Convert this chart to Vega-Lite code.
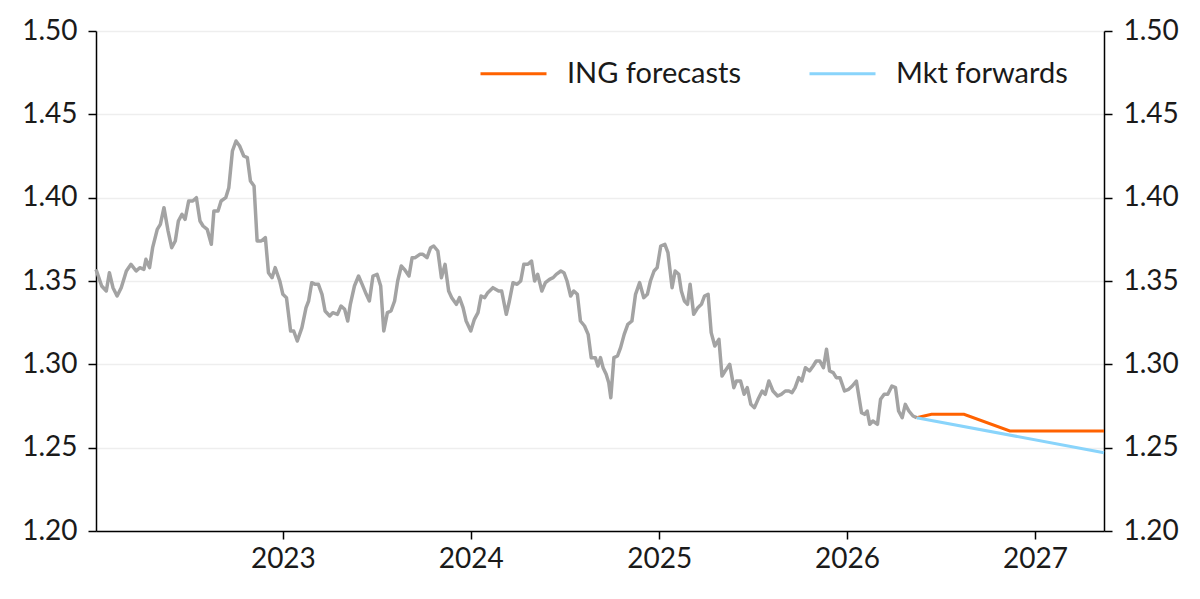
{
  "$schema": "https://vega.github.io/schema/vega-lite/v6.json",
  "autosize": {"type": "none"},
  "width": 1008,
  "height": 500,
  "padding": {"left": 96, "top": 31, "right": 96, "bottom": 68},
  "background": "white",
  "config": {
    "font": "Lato",
    "view": {"stroke": null},
    "axis": {
      "labelFont": "Lato",
      "labelFontSize": 28,
      "labelColor": "#1a1a1a",
      "domainColor": "#000000",
      "domainWidth": 1.5,
      "tickColor": "#000000",
      "tickWidth": 1.5,
      "tickSize": 8,
      "title": null
    }
  },
  "datasets": {
    "hist": [
      {"date": "2022-01-03", "value": 1.357},
      {"date": "2022-01-14", "value": 1.347},
      {"date": "2022-01-23", "value": 1.344},
      {"date": "2022-01-29", "value": 1.355},
      {"date": "2022-02-05", "value": 1.346},
      {"date": "2022-02-13", "value": 1.341},
      {"date": "2022-02-21", "value": 1.346},
      {"date": "2022-03-03", "value": 1.356},
      {"date": "2022-03-12", "value": 1.360},
      {"date": "2022-03-22", "value": 1.356},
      {"date": "2022-03-29", "value": 1.358},
      {"date": "2022-04-06", "value": 1.357},
      {"date": "2022-04-10", "value": 1.363},
      {"date": "2022-04-17", "value": 1.358},
      {"date": "2022-04-23", "value": 1.370},
      {"date": "2022-05-02", "value": 1.381},
      {"date": "2022-05-08", "value": 1.384},
      {"date": "2022-05-15", "value": 1.394},
      {"date": "2022-05-23", "value": 1.380},
      {"date": "2022-05-30", "value": 1.370},
      {"date": "2022-06-06", "value": 1.374},
      {"date": "2022-06-12", "value": 1.386},
      {"date": "2022-06-19", "value": 1.390},
      {"date": "2022-06-25", "value": 1.387},
      {"date": "2022-07-02", "value": 1.398},
      {"date": "2022-07-10", "value": 1.398},
      {"date": "2022-07-17", "value": 1.400},
      {"date": "2022-07-24", "value": 1.386},
      {"date": "2022-07-30", "value": 1.383},
      {"date": "2022-08-07", "value": 1.381},
      {"date": "2022-08-15", "value": 1.372},
      {"date": "2022-08-20", "value": 1.392},
      {"date": "2022-08-28", "value": 1.392},
      {"date": "2022-09-03", "value": 1.398},
      {"date": "2022-09-12", "value": 1.400},
      {"date": "2022-09-18", "value": 1.406},
      {"date": "2022-09-25", "value": 1.428},
      {"date": "2022-10-02", "value": 1.434},
      {"date": "2022-10-09", "value": 1.431},
      {"date": "2022-10-17", "value": 1.425},
      {"date": "2022-10-24", "value": 1.424},
      {"date": "2022-10-30", "value": 1.410},
      {"date": "2022-11-06", "value": 1.407},
      {"date": "2022-11-12", "value": 1.374},
      {"date": "2022-11-20", "value": 1.374},
      {"date": "2022-11-28", "value": 1.376},
      {"date": "2022-12-04", "value": 1.355},
      {"date": "2022-12-11", "value": 1.352},
      {"date": "2022-12-17", "value": 1.358},
      {"date": "2022-12-26", "value": 1.350},
      {"date": "2023-01-01", "value": 1.342},
      {"date": "2023-01-08", "value": 1.340},
      {"date": "2023-01-16", "value": 1.320},
      {"date": "2023-01-22", "value": 1.320},
      {"date": "2023-01-29", "value": 1.314},
      {"date": "2023-02-07", "value": 1.322},
      {"date": "2023-02-15", "value": 1.334},
      {"date": "2023-02-20", "value": 1.338},
      {"date": "2023-02-26", "value": 1.349},
      {"date": "2023-03-05", "value": 1.348},
      {"date": "2023-03-11", "value": 1.348},
      {"date": "2023-03-18", "value": 1.342},
      {"date": "2023-03-24", "value": 1.332},
      {"date": "2023-04-02", "value": 1.329},
      {"date": "2023-04-08", "value": 1.331},
      {"date": "2023-04-17", "value": 1.330},
      {"date": "2023-04-24", "value": 1.335},
      {"date": "2023-05-01", "value": 1.333},
      {"date": "2023-05-07", "value": 1.326},
      {"date": "2023-05-12", "value": 1.336},
      {"date": "2023-05-20", "value": 1.347},
      {"date": "2023-05-28", "value": 1.353},
      {"date": "2023-06-04", "value": 1.348},
      {"date": "2023-06-12", "value": 1.342},
      {"date": "2023-06-18", "value": 1.338},
      {"date": "2023-06-25", "value": 1.353},
      {"date": "2023-07-03", "value": 1.354},
      {"date": "2023-07-10", "value": 1.347},
      {"date": "2023-07-16", "value": 1.320},
      {"date": "2023-07-23", "value": 1.331},
      {"date": "2023-07-30", "value": 1.332},
      {"date": "2023-08-06", "value": 1.338},
      {"date": "2023-08-12", "value": 1.350},
      {"date": "2023-08-19", "value": 1.359},
      {"date": "2023-08-25", "value": 1.357},
      {"date": "2023-09-03", "value": 1.353},
      {"date": "2023-09-09", "value": 1.364},
      {"date": "2023-09-15", "value": 1.364},
      {"date": "2023-09-24", "value": 1.366},
      {"date": "2023-09-30", "value": 1.366},
      {"date": "2023-10-08", "value": 1.364},
      {"date": "2023-10-15", "value": 1.370},
      {"date": "2023-10-21", "value": 1.371},
      {"date": "2023-10-29", "value": 1.368},
      {"date": "2023-11-05", "value": 1.352},
      {"date": "2023-11-12", "value": 1.360},
      {"date": "2023-11-19", "value": 1.344},
      {"date": "2023-11-25", "value": 1.340},
      {"date": "2023-12-04", "value": 1.336},
      {"date": "2023-12-10", "value": 1.340},
      {"date": "2023-12-17", "value": 1.334},
      {"date": "2023-12-23", "value": 1.326},
      {"date": "2024-01-01", "value": 1.320},
      {"date": "2024-01-08", "value": 1.327},
      {"date": "2024-01-15", "value": 1.331},
      {"date": "2024-01-21", "value": 1.341},
      {"date": "2024-01-28", "value": 1.340},
      {"date": "2024-02-03", "value": 1.343},
      {"date": "2024-02-13", "value": 1.346},
      {"date": "2024-02-24", "value": 1.344},
      {"date": "2024-03-01", "value": 1.344},
      {"date": "2024-03-10", "value": 1.330},
      {"date": "2024-03-16", "value": 1.338},
      {"date": "2024-03-23", "value": 1.349},
      {"date": "2024-03-31", "value": 1.348},
      {"date": "2024-04-07", "value": 1.350},
      {"date": "2024-04-13", "value": 1.360},
      {"date": "2024-04-21", "value": 1.360},
      {"date": "2024-04-28", "value": 1.362},
      {"date": "2024-05-04", "value": 1.350},
      {"date": "2024-05-10", "value": 1.354},
      {"date": "2024-05-18", "value": 1.344},
      {"date": "2024-05-25", "value": 1.349},
      {"date": "2024-06-02", "value": 1.351},
      {"date": "2024-06-09", "value": 1.352},
      {"date": "2024-06-15", "value": 1.354},
      {"date": "2024-06-24", "value": 1.356},
      {"date": "2024-06-30", "value": 1.355},
      {"date": "2024-07-06", "value": 1.350},
      {"date": "2024-07-13", "value": 1.341},
      {"date": "2024-07-19", "value": 1.344},
      {"date": "2024-07-26", "value": 1.342},
      {"date": "2024-08-01", "value": 1.326},
      {"date": "2024-08-09", "value": 1.323},
      {"date": "2024-08-16", "value": 1.318},
      {"date": "2024-08-22", "value": 1.304},
      {"date": "2024-08-30", "value": 1.304},
      {"date": "2024-09-04", "value": 1.299},
      {"date": "2024-09-09", "value": 1.304},
      {"date": "2024-09-14", "value": 1.298},
      {"date": "2024-09-20", "value": 1.294},
      {"date": "2024-09-25", "value": 1.289},
      {"date": "2024-09-29", "value": 1.280},
      {"date": "2024-10-05", "value": 1.304},
      {"date": "2024-10-12", "value": 1.305},
      {"date": "2024-10-18", "value": 1.310},
      {"date": "2024-10-25", "value": 1.318},
      {"date": "2024-11-01", "value": 1.324},
      {"date": "2024-11-09", "value": 1.326},
      {"date": "2024-11-16", "value": 1.342},
      {"date": "2024-11-24", "value": 1.349},
      {"date": "2024-12-02", "value": 1.340},
      {"date": "2024-12-09", "value": 1.342},
      {"date": "2024-12-15", "value": 1.350},
      {"date": "2024-12-22", "value": 1.356},
      {"date": "2024-12-28", "value": 1.358},
      {"date": "2025-01-04", "value": 1.371},
      {"date": "2025-01-12", "value": 1.372},
      {"date": "2025-01-18", "value": 1.367},
      {"date": "2025-01-26", "value": 1.346},
      {"date": "2025-02-01", "value": 1.356},
      {"date": "2025-02-08", "value": 1.354},
      {"date": "2025-02-13", "value": 1.344},
      {"date": "2025-02-19", "value": 1.338},
      {"date": "2025-02-25", "value": 1.336},
      {"date": "2025-03-02", "value": 1.348},
      {"date": "2025-03-09", "value": 1.330},
      {"date": "2025-03-17", "value": 1.334},
      {"date": "2025-03-24", "value": 1.336},
      {"date": "2025-03-30", "value": 1.341},
      {"date": "2025-04-06", "value": 1.342},
      {"date": "2025-04-12", "value": 1.319},
      {"date": "2025-04-19", "value": 1.311},
      {"date": "2025-04-27", "value": 1.315},
      {"date": "2025-05-03", "value": 1.293},
      {"date": "2025-05-09", "value": 1.296},
      {"date": "2025-05-18", "value": 1.300},
      {"date": "2025-05-26", "value": 1.286},
      {"date": "2025-05-31", "value": 1.290},
      {"date": "2025-06-08", "value": 1.290},
      {"date": "2025-06-15", "value": 1.282},
      {"date": "2025-06-21", "value": 1.286},
      {"date": "2025-06-28", "value": 1.276},
      {"date": "2025-07-05", "value": 1.274},
      {"date": "2025-07-12", "value": 1.279},
      {"date": "2025-07-20", "value": 1.284},
      {"date": "2025-07-26", "value": 1.282},
      {"date": "2025-08-02", "value": 1.290},
      {"date": "2025-08-10", "value": 1.284},
      {"date": "2025-08-19", "value": 1.281},
      {"date": "2025-08-26", "value": 1.282},
      {"date": "2025-09-03", "value": 1.284},
      {"date": "2025-09-10", "value": 1.284},
      {"date": "2025-09-16", "value": 1.283},
      {"date": "2025-09-22", "value": 1.286},
      {"date": "2025-09-29", "value": 1.292},
      {"date": "2025-10-05", "value": 1.290},
      {"date": "2025-10-12", "value": 1.298},
      {"date": "2025-10-20", "value": 1.296},
      {"date": "2025-10-27", "value": 1.299},
      {"date": "2025-11-02", "value": 1.302},
      {"date": "2025-11-09", "value": 1.302},
      {"date": "2025-11-16", "value": 1.298},
      {"date": "2025-11-22", "value": 1.309},
      {"date": "2025-11-28", "value": 1.296},
      {"date": "2025-12-05", "value": 1.295},
      {"date": "2025-12-11", "value": 1.292},
      {"date": "2025-12-18", "value": 1.292},
      {"date": "2025-12-27", "value": 1.284},
      {"date": "2026-01-04", "value": 1.285},
      {"date": "2026-01-11", "value": 1.287},
      {"date": "2026-01-19", "value": 1.290},
      {"date": "2026-01-29", "value": 1.271},
      {"date": "2026-02-04", "value": 1.270},
      {"date": "2026-02-09", "value": 1.272},
      {"date": "2026-02-14", "value": 1.264},
      {"date": "2026-02-20", "value": 1.266},
      {"date": "2026-03-01", "value": 1.264},
      {"date": "2026-03-07", "value": 1.279},
      {"date": "2026-03-14", "value": 1.282},
      {"date": "2026-03-21", "value": 1.282},
      {"date": "2026-03-29", "value": 1.287},
      {"date": "2026-04-05", "value": 1.286},
      {"date": "2026-04-11", "value": 1.272},
      {"date": "2026-04-18", "value": 1.268},
      {"date": "2026-04-24", "value": 1.276},
      {"date": "2026-05-01", "value": 1.272},
      {"date": "2026-05-09", "value": 1.269},
      {"date": "2026-05-16", "value": 1.268}
    ],
    "fc": [
      {"date": "2026-05-16", "value": 1.268, "series": "ING forecasts"},
      {"date": "2026-06-14", "value": 1.270, "series": "ING forecasts"},
      {"date": "2026-08-16", "value": 1.270, "series": "ING forecasts"},
      {"date": "2026-11-13", "value": 1.260, "series": "ING forecasts"},
      {"date": "2027-05-15", "value": 1.260, "series": "ING forecasts"},
      {"date": "2026-05-16", "value": 1.268, "series": "Mkt forwards"},
      {"date": "2027-05-15", "value": 1.247, "series": "Mkt forwards"}
    ]
  },
  "encoding": {
    "x": {
      "field": "date",
      "type": "temporal",
      "scale": {
        "type": "utc",
        "domain": [
          {"year": 2022, "month": 1, "date": 3, "utc": true},
          {"year": 2027, "month": 5, "date": 15, "utc": true}
        ]
      },
      "axis": {
        "values": [
          {"year": 2023, "utc": true},
          {"year": 2024, "utc": true},
          {"year": 2025, "utc": true},
          {"year": 2026, "utc": true},
          {"year": 2027, "utc": true}
        ],
        "format": "%Y",
        "grid": false,
        "labelPadding": 6
      }
    }
  },
  "layer": [
    {
      "data": {"name": "hist"},
      "mark": {"type": "line", "color": "#a3a3a3", "strokeWidth": 3.5, "strokeJoin": "round"},
      "encoding": {
        "y": {
          "field": "value",
          "type": "quantitative",
          "scale": {"domain": [1.2, 1.5], "zero": false, "nice": false},
          "axis": {
            "orient": "left",
            "values": [1.2, 1.25, 1.3, 1.35, 1.4, 1.45, 1.5],
            "format": ".2f",
            "grid": true,
            "gridColor": "#eeeeee",
            "gridWidth": 1.5,
            "labelPadding": 11
          }
        }
      }
    },
    {
      "data": {"name": "fc"},
      "mark": {"type": "line", "strokeWidth": 3},
      "encoding": {
        "y": {
          "field": "value",
          "type": "quantitative",
          "scale": {"domain": [1.2, 1.5], "zero": false, "nice": false},
          "axis": {
            "orient": "right",
            "values": [1.2, 1.25, 1.3, 1.35, 1.4, 1.45, 1.5],
            "format": ".2f",
            "grid": false,
            "labelPadding": 11
          }
        },
        "color": {
          "field": "series",
          "type": "nominal",
          "scale": {
            "domain": ["ING forecasts", "Mkt forwards"],
            "range": ["#ff6200", "#89d4fb"]
          },
          "legend": {
            "title": null,
            "orient": "none",
            "direction": "horizontal",
            "legendX": 383,
            "legendY": 8,
            "symbolType": "stroke",
            "symbolSize": 4356,
            "symbolStrokeWidth": 3,
            "labelFont": "Lato",
            "labelFontSize": 29,
            "labelColor": "#1a1a1a",
            "labelOffset": 19,
            "labelLimit": 0,
            "columnPadding": 61
          }
        }
      }
    }
  ],
  "resolve": {"scale": {"y": "shared"}, "axis": {"y": "independent"}}
}
